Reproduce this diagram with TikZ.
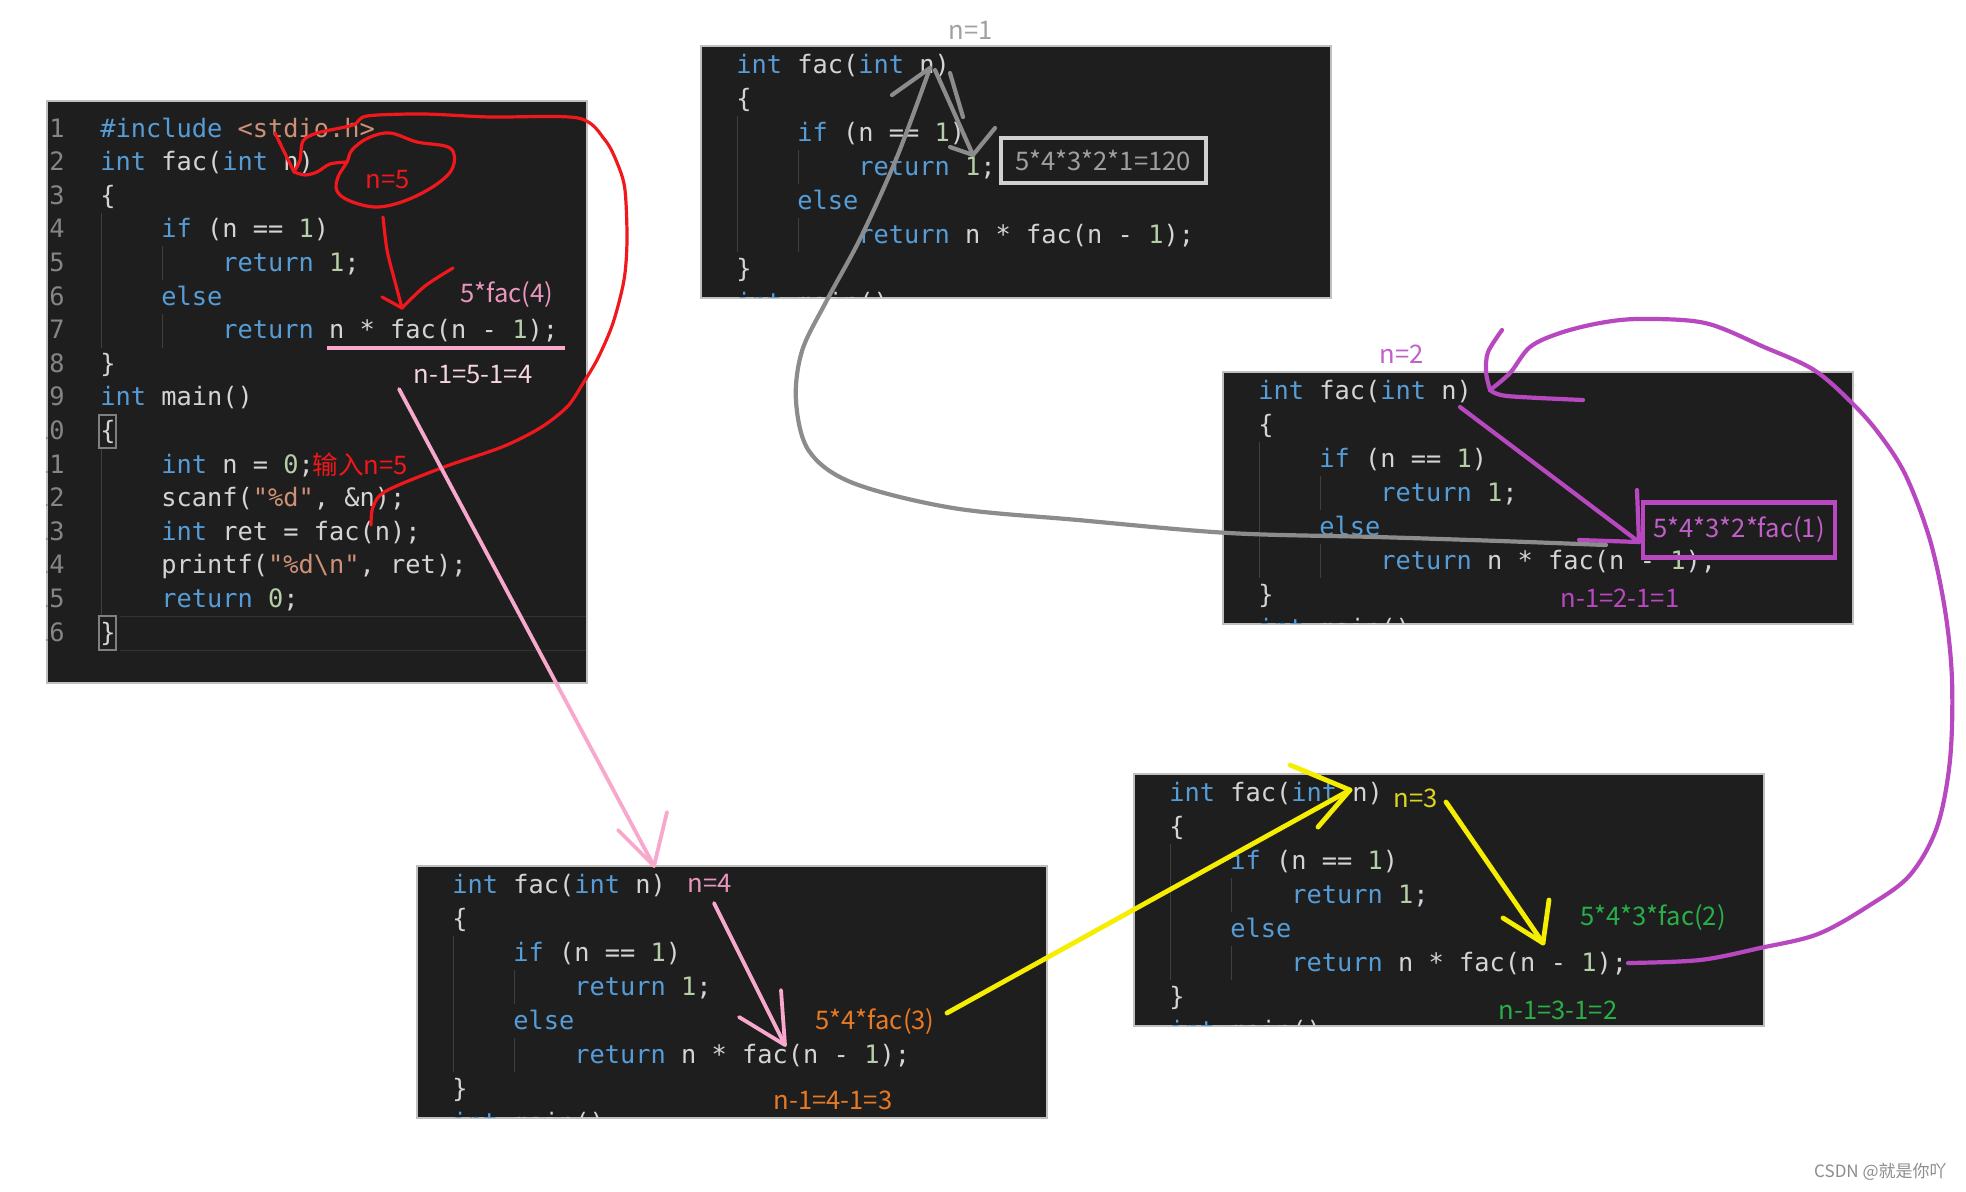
\documentclass[tikz,border=0pt]{standalone}
\usepackage{fontspec}
\setmonofont{DejaVu Sans Mono}
\newfontfamily\notefont{Noto Sans CJK SC}
\usetikzlibrary{calc}
\definecolor{CodeBg}{RGB}{30,30,30}
\definecolor{CodeTxt}{RGB}{212,212,212}
\definecolor{CodeKw}{RGB}{86,156,214}
\definecolor{CodeNum}{RGB}{181,206,168}
\definecolor{CodeStr}{RGB}{206,145,120}
\definecolor{LineNo}{RGB}{133,133,133}
\definecolor{GuideClr}{RGB}{64,64,64}
\definecolor{RedPen}{RGB}{240,24,28}
\definecolor{PinkPen}{RGB}{247,168,204}
\definecolor{PinkNote}{RGB}{232,150,190}
\definecolor{PinkLight}{RGB}{244,212,226}
\definecolor{GrayPen}{RGB}{140,140,140}
\definecolor{NoteGray}{RGB}{160,160,160}
\definecolor{PurplePen}{RGB}{184,72,192}
\definecolor{PurpleNote}{RGB}{192,96,200}
\definecolor{YellowPen}{RGB}{245,238,0}
\definecolor{YellowNote}{RGB}{222,214,30}
\definecolor{OrangeClr}{RGB}{232,122,36}
\definecolor{GreenClr}{RGB}{40,176,72}

\newcommand{\ckw}[1]{\textcolor{CodeKw}{#1}}
\newcommand{\cnum}[1]{\textcolor{CodeNum}{#1}}
\newcommand{\cstr}[1]{\textcolor{CodeStr}{#1}}

\tikzset{
  codepanel/.style={fill=CodeBg,draw=black!25,line width=0.8pt,anchor=north west,inner sep=0pt},
  codeline/.style={anchor=base west,inner sep=0pt,text=CodeTxt,font=\ttfamily\fontsize{12.67}{15}\selectfont},
  lineno/.style={anchor=base east,inner sep=0pt,text=LineNo,font=\ttfamily\fontsize{12.67}{15}\selectfont},
  guide/.style={draw=GuideClr,line width=0.5pt},
  note/.style={inner sep=0pt,font=\notefont\fontsize{12.8}{15}\selectfont},
  pen/.style={line width=1.9pt,line cap=round,line join=round},
}

% one stack frame of fac(), top left corner at #2
\newcommand{\facpanel}[2]{%
  \begin{scope}[shift={#2}]
    \node[codepanel,minimum width=315pt,minimum height=126pt] (#1) at (0,0) {};
    \begin{scope}
      \clip (0,0) rectangle (630,252);
      \draw[guide] (37,71) -- (37,207);
      \draw[guide] (98,105) -- (98,139) (98,173) -- (98,207);
      \node[codeline] at (36,28) {\ckw{int} fac(\ckw{int} n)};
      \node[codeline] at (36,62) {\{};
      \node[codeline] at (97,96) {\ckw{if} (n == \cnum{1})};
      \node[codeline] at (158,130) {\ckw{return} \cnum{1};};
      \node[codeline] at (97,164) {\ckw{else}};
      \node[codeline] at (158,198) {\ckw{return} n * fac(n - \cnum{1});};
      \node[codeline] at (36,232) {\}};
      \node[codeline] at (36,266) {\ckw{int} main()};
    \end{scope}
  \end{scope}}

\begin{document}
\begin{tikzpicture}[x=0.5pt,y=-0.5pt]
\useasboundingbox (0,0) rectangle (1966,1191);

\node[codepanel,minimum width=270pt,minimum height=291pt] (mainpanel) at (46,100) {};
\begin{scope}
  \clip (46,100) rectangle (586,682);
  \draw[draw=black!80,line width=0.5pt] (120,616) -- (586,616) (120,650) -- (586,650);
  \foreach \i in {1,...,16}
    \node[lineno] at (65,{137+33.6*(\i-1)}) {\i};
  \draw[guide] (101,213) -- (101,348) (101,448) -- (101,616);
  \draw[guide] (162,246) -- (162,280) (162,314) -- (162,348);
  \draw[draw=black!50,line width=0.6pt] (99,415) rectangle (116,448) (99,616) rectangle (116,650);
  \node[codeline] at (100,137) {\ckw{\#include} \cstr{<stdio.h>}};
  \node[codeline] at (100,170.6) {\ckw{int} fac(\ckw{int} n)};
  \node[codeline] at (100,204.2) {\{};
  \node[codeline] at (161,237.8) {\ckw{if} (n == \cnum{1})};
  \node[codeline] at (222,271.4) {\ckw{return} \cnum{1};};
  \node[codeline] at (161,305) {\ckw{else}};
  \node[codeline] at (222,338.6) {\ckw{return} n * fac(n - \cnum{1});};
  \node[codeline] at (100,372.2) {\}};
  \node[codeline] at (100,405.8) {\ckw{int} main()};
  \node[codeline] at (100,439.4) {\{};
  \node[codeline] at (161,473) {\ckw{int} n = \cnum{0};};
  \node[codeline] at (161,506.6) {scanf(\cstr{"\%d"}, \&n);};
  \node[codeline] at (161,540.2) {\ckw{int} ret = fac(n);};
  \node[codeline] at (161,573.8) {printf(\cstr{"\%d\textbackslash n"}, ret);};
  \node[codeline] at (161,607.4) {\ckw{return} \cnum{0};};
  \node[codeline] at (100,641) {\}};
\end{scope}

\facpanel{frame1}{(700,45)}
\facpanel{frame2}{(1222,371)}
\facpanel{frame4}{(416,865)}
\facpanel{frame3}{(1133,773)}

\node[note,text=RedPen] (n5) at (388,180) {n=5};
\node[note,text=PinkNote] (f5res) at (507,295) {5*fac(4)};
\node[note,text=PinkLight] (n5sub) at (473,375) {n-1=5-1=4};
\node[note,text=RedPen,anchor=west] (input) at (312,465) {输入n=5};

\node[note,text=NoteGray] (n1) at (971,30) {n=1};
\node[note,text=NoteGray,draw=black!18,line width=2pt,minimum width=102.5pt,minimum height=22.5pt] (f1res) at (1103,160) {5*4*3*2*1=120};

\node[note,text=PurpleNote] (n2) at (1402,354) {n=2};
\node[note,text=PurpleNote,draw=PurplePen,line width=2.2pt,minimum width=96pt,minimum height=27.5pt] (f2res) at (1739,530) {5*4*3*2*fac(1)};
\node[note,text=PurplePen] (n2sub) at (1620,598) {n-1=2-1=1};

\node[note,text=PinkNote] (n4) at (710,883) {n=4};
\node[note,text=OrangeClr] (f4res) at (875,1022) {5*4*fac(3)};
\node[note,text=OrangeClr] (n4sub) at (833,1100) {n-1=4-1=3};

\node[note,text=YellowNote] (n3) at (1416,798) {n=3};
\node[note,text=GreenClr] (f3res) at (1653,918) {5*4*3*fac(2)};
\node[note,text=GreenClr] (n3sub) at (1558,1010) {n-1=3-1=2};

\node[inner sep=0pt,anchor=east,text=black!45,font=\notefont\fontsize{8.5}{10}\selectfont] (mark) at (1947,1172) {CSDN @就是你吖};

% red: n goes into fac
\coordinate (c5arg) at (294,172);
\draw[pen,RedPen,line width=1.6pt] plot[smooth,tension=.5] coordinates {(371,525) (373,507) (386,491) (444,467) (502,447) (540,428) (567,407) (582,385) (598,358) (613,323) (624,280) (627,240) (625,190) (618,165) (605,140) (578,118) (490,117) (423,114) (367,116) (353,125) (317,133) (303,141) (300,160) (c5arg)};
\draw[pen,RedPen,line width=1.6pt] (275,133) -- (c5arg);
\draw[pen,RedPen,line width=1.6pt] plot[smooth,tension=.5] coordinates {(c5arg) (305,175) (317,172) (330,164) (347,162)};
\draw[pen,RedPen,line width=1.6pt] plot[smooth cycle,tension=.6] coordinates {(347,162) (338,177) (337,191) (350,201) (377,207) (407,200) (437,184) (453,167) (450,148) (417,142) (390,133) (368,138) (352,150)};
\draw[pen,RedPen,line width=1.6pt] plot[smooth] coordinates {(383,217) (387,250) (394,278) (402,308)};
\draw[pen,RedPen,line width=1.6pt] (382,297) -- (402,308);
\draw[pen,RedPen,line width=1.6pt] plot[smooth] coordinates {(402,308) (425,286) (453,268)};

% pink: fac(4)
\draw[PinkPen,line width=2.4pt] (327,348) -- (565,348);
\coordinate (c4arg) at (654,866);
\draw[pen,PinkPen] (399,389) -- (c4arg);
\draw[pen,PinkPen] (618,830) -- (c4arg) -- (667,812);
\draw[pen,PinkPen] (714,903) -- (785,1045);
\draw[pen,PinkPen] (739,1017) -- (785,1045) -- (781,990);

% yellow: fac(3)
\coordinate (c3arg) at (1350,790);
\draw[pen,YellowPen,line width=2.4pt] (947,1013) -- (c3arg);
\draw[pen,YellowPen,line width=2.4pt] (1290,765) -- (c3arg) -- (1318,827);
\draw[pen,YellowPen,line width=2.4pt] (1446,802) -- (1543,943);
\draw[pen,YellowPen,line width=2.4pt] (1503,918) -- (1543,943) -- (1549,900);

% purple: fac(2)
\coordinate (c2arg) at (1490,390);
\draw[pen,PurplePen,line width=2.1pt] plot[smooth,tension=.55] coordinates {(1628,963) (1700,960) (1760,948) (1818,934) (1870,905) (1910,875) (1937,827) (1950,760) (1952,680) (1945,610) (1930,540) (1906,476) (1880,435) (1852,403) (1814,370) (1764,347) (1705,323) (1640,319) (1600,323) (1560,333) (1530,347) (1510,373) (c2arg)};
\draw[pen,PurplePen,line width=2.1pt] plot[smooth] coordinates {(1502,330) (1488,352) (1486,372) (c2arg)};
\draw[pen,PurplePen,line width=2.1pt] plot[smooth] coordinates {(c2arg) (1507,396) (1583,400)};
\draw[pen,PurplePen,line width=2.1pt] (1460,407) -- (1639,542);
\draw[pen,PurplePen,line width=2.1pt] (1637,490) -- (1639,542) -- (1579,540);

% gray: fac(1)
\coordinate (c1arg) at (930,68);
\draw[pen,GrayPen,line width=2.1pt] plot[smooth,tension=.55] coordinates {(1606,545) (1500,541) (1377,537) (1229,533) (1078,520) (953,508) (853,483) (809,451) (796,401) (802,351) (827,300) (861,237) (897,157) (c1arg)};
\draw[pen,GrayPen,line width=2.1pt] (892,95) -- (c1arg);
\draw[pen,GrayPen,line width=2.1pt] (935,70) -- (973,155) (950,73) -- (963,117);
\draw[pen,GrayPen,line width=2.1pt] (995,128) -- (973,155) -- (950,147);

\end{tikzpicture}
\end{document}
